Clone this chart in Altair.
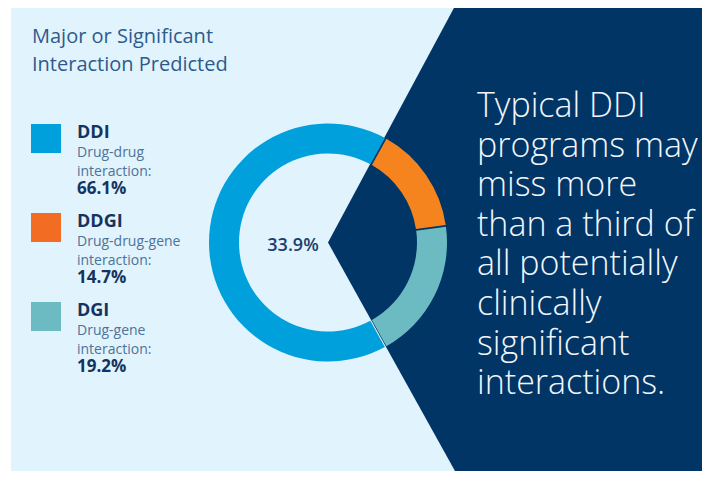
import math
import altair as alt
import pandas as pd

# ---------------- data ----------------
categories = ["DDI", "DDGI", "DGI"]
descriptions = ["Drug-drug\ninteraction:", "Drug-drug-gene\ninteraction:", "Drug-gene\ninteraction:"]
values = [66.1, 14.7, 19.2]
arc_order = [2, 0, 1]          # DDGI starts at the wedge, then DGI, then DDI
arc_colors = ["#00A0DC", "#F5841F", "#6DBBC2"]
legend_colors = ["#00A0DC", "#F26D23", "#6DBBC2"]
title_lines = ["Major or Significant", "Interaction Predicted"]
callout_lines = ["Typical DDI", "programs may", "miss more", "than a third of",
                 "all potentially", "clinically", "significant", "interactions."]

# ---------------- layout (page pixels) ----------------
W, H = 694, 463
X0, Y0 = 8, 8
LIGHT = "#E1F3FC"
NAVY = "#003566"
FONT = "Open Sans"
CX, CY = 328, 242.5
R_IN, R_OUT = 89, 119
START = math.radians(29)

xs = alt.Scale(domain=[X0, X0 + W], nice=False, zero=False)
ys = alt.Scale(domain=[Y0, Y0 + H], nice=False, zero=False, reverse=True)


def X(f):
    return alt.X(f, type="quantitative", scale=xs, axis=None)


def Y(f):
    return alt.Y(f, type="quantitative", scale=ys, axis=None)


# background panel
bg_df = pd.DataFrame({"x": [11], "x2": [712], "y": [6], "y2": [480]})
bg = alt.Chart(bg_df).mark_rect(color=LIGHT, clip=True).encode(
    x=X("x"), x2="x2", y=Y("y"), y2="y2")

# navy wedge region
wedge_df = pd.DataFrame({"y": [6, CY, 480], "x": [455, CX, 460], "x2": [712, 712, 712]})
wedge = alt.Chart(wedge_df).mark_area(color=NAVY, orient="horizontal", clip=True).encode(
    y=Y("y"), x=X("x"), x2="x2")

# donut
donut_df = pd.DataFrame({
    "category": categories, "value": values, "rank": arc_order,
    "color": arc_colors, "cx": [CX] * 3, "cy": [CY] * 3})
donut = alt.Chart(donut_df).mark_arc(innerRadius=R_IN, outerRadius=R_OUT, padAngle=0.012).encode(
    theta=alt.Theta("value:Q", stack=True, scale=alt.Scale(range=[START, START + 2 * math.pi])),
    order=alt.Order("rank:Q"),
    color=alt.Color("color:N", scale=None),
    x=X("cx"), y=Y("cy"))

# legend
SP = 89
leg_df = pd.DataFrame({
    "category": categories,
    "desc": descriptions,
    "label": [f"{v:.1f}%" for v in values],
    "color": legend_colors,
    "sx": [31] * 3, "sx2": [61] * 3,
    "sy": [124 + SP * i for i in range(3)], "sy2": [153 + SP * i for i in range(3)],
    "tx": [77] * 3,
    "y_code": [138 + SP * i for i in range(3)],
    "y_desc": [157 + SP * i for i in range(3)],
    "y_val": [194 + SP * i for i in range(3)],
})
leg_sq = alt.Chart(leg_df).mark_rect().encode(
    x=X("sx"), x2="sx2", y=Y("sy"), y2="sy2", color=alt.Color("color:N", scale=None))
leg_code = alt.Chart(leg_df).mark_text(
    align="left", baseline="alphabetic", font=FONT, fontSize=18, fontWeight=700, color="#15335E"
).encode(x=X("tx"), y=Y("y_code"), text="category:N")
leg_desc = alt.Chart(leg_df).mark_text(
    align="left", baseline="alphabetic", font=FONT, fontSize=14, fontWeight=400,
    color="#4E7299", lineBreak="\n", lineHeight=19
).encode(x=X("tx"), y=Y("y_desc"), text="desc:N")
leg_val = alt.Chart(leg_df).mark_text(
    align="left", baseline="alphabetic", font=FONT, fontSize=17, fontWeight=700, color="#15335E"
).encode(x=X("tx"), y=Y("y_val"), text="label:N")

# title
title_df = pd.DataFrame({"t": ["\n".join(title_lines)], "x": [32], "y": [43]})
title = alt.Chart(title_df).mark_text(
    align="left", baseline="alphabetic", font=FONT, fontSize=20, fontWeight=400,
    color="#2D5B8C", lineBreak="\n", lineHeight=28
).encode(x=X("x"), y=Y("y"), text="t:N")

# center label: share not captured by typical DDI programs
missed = values[1] + values[2]
center_df = pd.DataFrame({"t": [f"{missed:.1f}%"], "x": [293], "y": [251]})
center = alt.Chart(center_df).mark_text(
    align="center", baseline="alphabetic", font=FONT, fontSize=18, fontWeight=600, color="#1B3F6E"
).encode(x=X("x"), y=Y("y"), text="t:N")

# callout
call_df = pd.DataFrame({"t": ["\n".join(callout_lines)], "x": [477], "y": [117]})
callout = alt.Chart(call_df).mark_text(
    align="left", baseline="alphabetic", font=FONT, fontSize=34, fontWeight=300,
    color="#F2F6FA", lineBreak="\n", lineHeight=39.6
).encode(x=X("x"), y=Y("y"), text="t:N")

chart = alt.layer(bg, wedge, donut, leg_sq, leg_code, leg_desc, leg_val, title, center, callout).properties(
    width=W, height=H, padding=0, autosize=alt.AutoSizeParams(type="none"), background="white"
).configure_view(stroke=None)

chart.save("out.html", embed_options={"renderer": "svg", "actions": False})
